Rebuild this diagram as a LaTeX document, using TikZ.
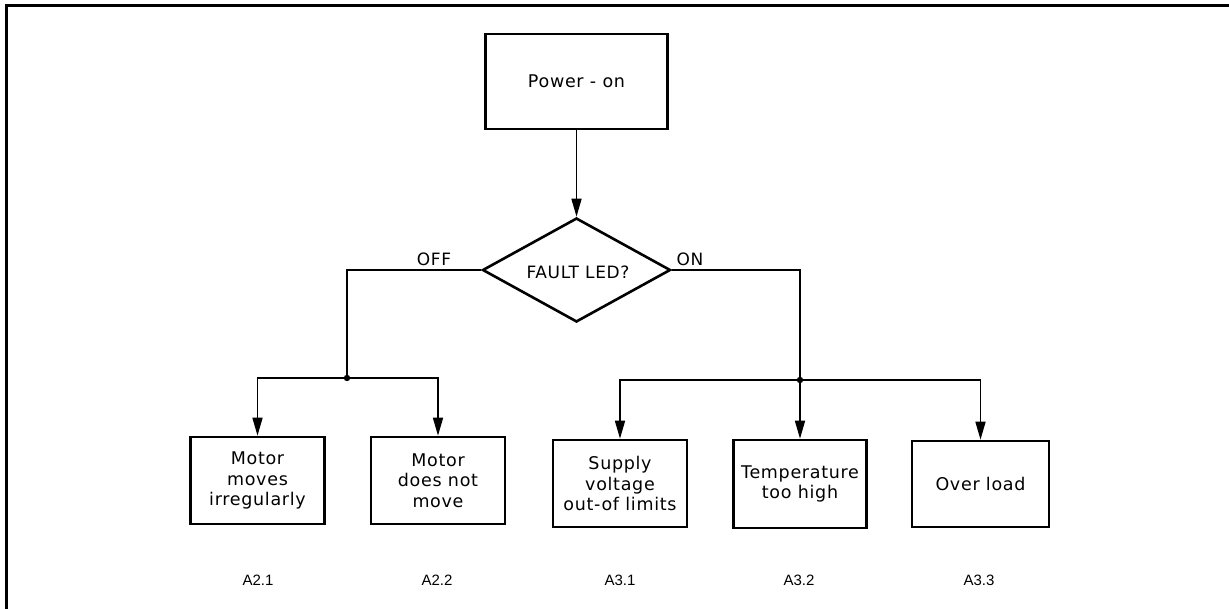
\documentclass[tikz,border=0pt]{standalone}
\usepackage{fontspec}
\setmainfont{Liberation Sans}
\newfontfamily\boxfont[LetterSpace=4]{DejaVu Sans}
\usetikzlibrary{shapes.geometric,arrows.meta}
\begin{document}
\begin{tikzpicture}[x=1pt,y=-1pt,
  boxn/.style={draw,line width=2.6pt,minimum width=134pt,minimum height=87pt,inner sep=0pt,align=center,font=\boxfont\fontsize{17.5}{20.5}\selectfont},
  conn/.style={line width=1.6pt},
  arr/.style={conn,-{Triangle[length=18pt,width=10pt]}},
  lbl/.style={font=\fontsize{15}{17}\selectfont},
  tag/.style={font=\boxfont\fontsize{17}{18}\selectfont,inner sep=1pt}]
\useasboundingbox (0,0) rectangle (1229,609);
% page frame (top and left edges only)
\draw[line width=3pt] (6,609) -- (6,6) -- (1229,6);

\node[boxn,minimum width=182pt,minimum height=95pt] (p) at (576.5,81.5) {Power - on};
\node[draw,diamond,line width=2.6pt,minimum width=188pt,minimum height=104pt,inner sep=0pt] (d) at (576.5,270) {};
\node[tag] (dt) at (578,272) {FAULT LED?};

\node[boxn] (b21) at (257.5,480.5) {Motor\\moves\\irregularly};
\node[boxn] (b22) at (438,480.5) {Motor\\does not\\move};
\node[boxn] (b31) at (620,483.5) {Supply\\voltage\\out-of limits};
\node[boxn,minimum width=133pt,minimum height=88pt] (b32) at (800,484) {Temperature\\too high};
\node[boxn,minimum width=137pt,minimum height=86pt] (b33) at (980.5,484) {Over load};

\coordinate (j1) at (347,378);
\coordinate (j2) at (800,380);

\draw[arr] (p.south) -- (d.north);
\draw[conn] (d.west) -| (j1);
\draw[arr] (j1) -| (b21.north);
\draw[arr] (j1) -| (b22.north);
\fill (j1) circle (3.2pt);
\draw[conn] (d.east) -| (j2);
\draw[arr] (j2) -| (b31.north);
\draw[arr] (j2) -- (b32.north);
\draw[arr] (j2) -| (b33.north);
\fill (j2) circle (3.2pt);

\node[tag,anchor=south] (off) at (434,267) {OFF};
\node[tag,anchor=south] (on) at (690,267) {ON};

\node[lbl] (l21) at (258,580) {A2.1};
\node[lbl] (l22) at (437,580) {A2.2};
\node[lbl] (l31) at (620,580) {A3.1};
\node[lbl] (l32) at (799,580) {A3.2};
\node[lbl] (l33) at (979,580) {A3.3};
\end{tikzpicture}
\end{document}
